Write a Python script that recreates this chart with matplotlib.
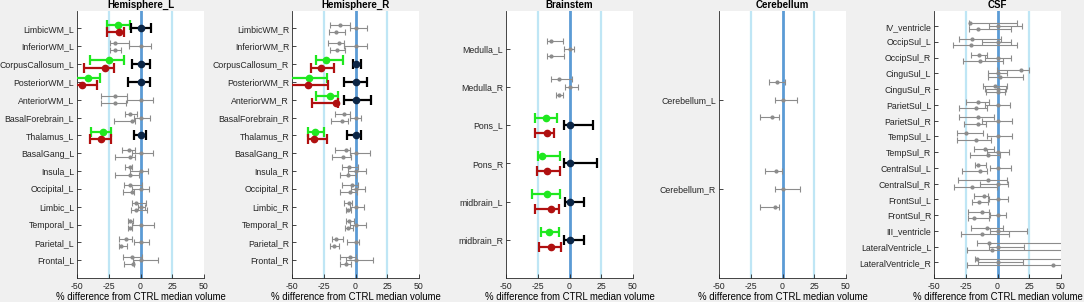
import matplotlib.pyplot as plt

plt.rcParams['font.family'] = ['Liberation Sans', 'DejaVu Sans']

# ---- data: (median, low, high) for upper group, (low, high) for CTRL, (median, low, high) for lower group
hemL_labels = ['LimbicWM_L', 'InferiorWM_L', 'CorpusCallosum_L', 'PosteriorWM_L', 'AnteriorWM_L',
               'BasalForebrain_L', 'Thalamus_L', 'BasalGang_L', 'Insula_L', 'Occipital_L',
               'Limbic_L', 'Temporal_L', 'Parietal_L', 'Frontal_L']
hemL_up = [(-17.5, -26, -8.5), (-20, -23.7, -9), (-24.5, -40, -13.3), (-41.5, -55, -32),
           (-20, -30.8, -10.4), (-8.2, -12.5, -2.4), (-29.5, -39, -23.4), (-9, -14.4, -4.3),
           (-8.5, -12.5, -6.4), (-8.5, -12.8, 1), (-3.2, -7, 4.3), (-8, -9.6, -5.9),
           (-11.7, -17, -7), (-7, -13.6, 1)]
hemL_ctrl = [(-7.4, 8), (-9, 8.2), (-7, 7.4), (-10, 7.4), (-10.4, 9.6), (-5, 7.4), (-5, 4.3),
             (-7, 9.6), (-8.5, 5.9), (-6.4, 7), (-2, 3.5), (-6.4, 11), (-5, 7), (-5.6, 13.6)]
hemL_low = [(-17, -26, -13.3), (-19.7, -23.7, -15.2), (-27.7, -44.7, -20.7), (-46.3, -55, -34),
            (-19.7, -31.4, -11.2), (-6.4, -21, -4.3), (-30.9, -40, -23.4), (-8.5, -19.7, -4.3),
            (-8.5, -20, -1), (-7, -13.8, -4.8), (-3.2, -7.7, 5.3), (-8, -10, -6.4),
            (-15, -17, -10.6), (-6, -13, -4.8)]
hemL_sig = ['LimbicWM_L', 'CorpusCallosum_L', 'PosteriorWM_L', 'Thalamus_L']

hemR_labels = ['LimbicWM_R', 'InferiorWM_R', 'CorpusCallosum_R', 'PosteriorWM_R', 'AnteriorWM_R',
               'BasalForebrain_R', 'Thalamus_R', 'BasalGang_R', 'Insula_R', 'Occipital_R',
               'Limbic_R', 'Temporal_R', 'Parietal_R', 'Frontal_R']
hemR_up = [(-12, -19.8, -4.2), (-12.8, -21.9, -8.9), (-23.4, -31.3, -9.9), (-36.5, -55, -22.4),
           (-20, -31, -14), (-8.9, -16, -4.2), (-31.5, -37.5, -25), (-7.6, -16, -4.2),
           (-5.2, -10.9, 1.6), (-2.6, -10.4, 1.6), (-5, -9.4, -2.9), (-5.2, -7.8, -1),
           (-15.6, -18.8, -9.9), (-4.7, -12, 0.5)]
hemR_ctrl = [(-4.2, 8.9), (-9.4, 8.9), (-2, 4.2), (-9.4, 9.4), (-8.9, 12.5), (-4.2, 4.7), (-6.8, 4.2),
             (-4.2, 11.5), (-5.7, 8.3), (-3.6, 7.6), (-4.2, 6.8), (-4.2, 8.3), (-6.8, 3.1), (-7.6, 13.5)]
hemR_low = [(-15.4, -20.6, -8.3), (-14.6, -20.3, -8.1), (-27, -34.9, -16.7), (-37.5, -55, -21.9),
            (-15.4, -34.4, -14), (-10.7, -19.3, -5.7), (-32.3, -37.5, -22.7), (-9.9, -18.8, -3.6),
            (-5.7, -12.5, 0.5), (-4.2, -12, 0.8), (-5.7, -7.6, -3.6), (-5.7, -8.1, -2.3),
            (-17.2, -19.8, -13), (-7.8, -12, -3.6)]
hemR_sig = ['CorpusCallosum_R', 'PosteriorWM_R', 'AnteriorWM_R', 'Thalamus_R']

bs_labels = ['Medulla_L', 'Medulla_R', 'Pons_L', 'Pons_R', 'midbrain_L', 'midbrain_R']
bs_up = [(-14.3, -17.4, -4.9), (-8.6, -14.3, 1.8), (-18.5, -26.8, -10.2), (-21.9, -24.7, -7.6),
         (-17.4, -29.4, -7.6), (-16.4, -22.7, -8.1)]
bs_ctrl = [(-4.4, 3.4), (-3.9, 7), (-4.4, 18.5), (-4.4, 22), (-3.4, 11.7), (-4.4, 11.2)]
bs_low = [(-14.3, -17.4, -4.4), (-8.1, -10.9, -5.5), (-17.4, -27.3, -12.2), (-17.4, -25.3, -7.6),
          (-14.3, -26.8, -8.6), (-14.3, -23.7, -7)]
bs_sig = ['Pons_L', 'Pons_R', 'midbrain_L', 'midbrain_R']

cb_labels = ['Cerebellum_L', 'Cerebellum_R']
cb_up = [(-4.5, -10.3, 1.6), (-5, -13.4, -0.3)]
cb_ctrl = [(-6, 11.3), (-5.8, 13.9)]
cb_low = [(-7.9, -17.6, -2.9), (-6, -17.6, -2.9)]
cb_sig = []

csf_labels = ['IV_ventricle', 'OccipSul_L', 'OccipSul_R', 'CinguSul_L', 'CinguSul_R', 'ParietSul_L',
              'ParietSul_R', 'TempSul_L', 'TempSul_R', 'CentralSul_L', 'CentralSul_R', 'FrontSul_L',
              'FrontSul_R', 'III_ventricle', 'LateralVentricle_L', 'LateralVentricle_R']
csf_up = [(-21.4, -22.4, 15.1), (-19.8, -30.2, 3.1), (-14.6, -20.8, -8.3), (18.8, -0.5, 25),
          (-1.6, -11.5, 7.3), (-15.1, -24.5, -6.3), (-15.1, -30.2, -2.6), (-25, -31.8, -11.5),
          (-9.9, -18.2, -3.1), (-15.6, -17.7, -9.4), (-7.3, -31.3, 7.8), (-10.4, -18.8, -7.3),
          (-12.5, -22.9, -6.3), (-8.3, -20.8, 4.7), (-6.3, -16.1, 60), (-16, -17.7, 60)]
csf_ctrl = [(-6.3, 19.3), (-12, 10.4), (-9.9, 10.9), (-7.3, 7.3), (-9.9, 6.3), (-9.9, 9.9), (-12, 11.5),
            (-8.3, 11.5), (-8.3, 8.9), (-5.7, 10.4), (-14.1, 8.3), (-6.8, 8.3), (-5.7, 6.8), (-5.7, 23.4),
            (-6.8, 20.8), (-15.6, 19.8)]
csf_low = [(-15.6, -22.4, 10.4), (-20.8, -34.9, 15.6), (-14.1, -27, 4.2), (1.6, -7.3, 19.8),
           (0.5, -8.9, 5.7), (-17.2, -30.2, -8.3), (-15.1, -26.6, -8.9), (-16.7, -31.8, -5.2),
           (-7.3, -21.4, 2.1), (-13.5, -28.1, -8.3), (-19.8, -33.9, -0.5), (-14.6, -19.8, -7.3),
           (-18.2, -22.9, -6.8), (-12, -28.6, 8.9), (-4.7, -24, 60), (43.7, -24, 60)]
csf_sig = []

panels = [('Hemisphere_L', hemL_labels, hemL_up, hemL_ctrl, hemL_low, hemL_sig, 77),
          ('Hemisphere_R', hemR_labels, hemR_up, hemR_ctrl, hemR_low, hemR_sig, 292),
          ('Brainstem', bs_labels, bs_up, bs_ctrl, bs_low, bs_sig, 506),
          ('Cerebellum', cb_labels, cb_up, cb_ctrl, cb_low, cb_sig, 719),
          ('CSF', csf_labels, csf_up, csf_ctrl, csf_low, csf_sig, 934)]

W, H = 1084, 302
fig = plt.figure(figsize=(W / 100, H / 100), dpi=100, facecolor='#f0f0f0')

green = '#1fe81f'
red = '#b01010'
grey = '#8c8c8c'
axcol = '#262626'
off = 0.2

for title, labels, up, ctrl, low, sig, x0 in panels:
    ax = fig.add_axes([x0 / W, 24 / H, 127 / W, 267.5 / H])
    ax.set_facecolor('white')
    n = len(labels)
    ax.axvline(-25, color='#bfe6f5', lw=1.6, zorder=1)
    ax.axvline(25, color='#bfe6f5', lw=1.6, zorder=1)
    ax.axvline(0, color='#5b9bd5', lw=2, zorder=1)
    for i, name in enumerate(labels):
        y = i + 1
        c_up, c_low = up[i], low[i]
        lo_c, hi_c = ctrl[i]
        if name in sig:
            kw = dict(lw=1.6, capsize=3.4, capthick=1.6, ms=4.5, zorder=3)
            ax.errorbar(c_up[0], y - off, xerr=[[c_up[0] - c_up[1]], [c_up[2] - c_up[0]]],
                        fmt='o', color=green, mfc=green, mec=green, **kw)
            ax.errorbar(c_low[0], y + off, xerr=[[c_low[0] - c_low[1]], [c_low[2] - c_low[0]]],
                        fmt='o', color=red, mfc=red, mec=red, **kw)
            ax.errorbar(0, y, xerr=[[-lo_c], [hi_c]], fmt='o', color='black',
                        mfc='#0b2545', mec='#0b2545', **kw)
        else:
            kw = dict(lw=0.8, capsize=2, capthick=0.8, ms=2, color=grey, mfc=grey, mec=grey, zorder=2)
            ax.errorbar(c_up[0], y - off, xerr=[[c_up[0] - c_up[1]], [c_up[2] - c_up[0]]],
                        fmt='o', **kw)
            ax.errorbar(c_low[0], y + off, xerr=[[c_low[0] - c_low[1]], [c_low[2] - c_low[0]]],
                        fmt='o', **kw)
            ax.errorbar(0, y, xerr=[[-lo_c], [hi_c]], fmt='o', **kw)

    ax.set_xlim(-50, 50)
    ax.set_ylim(n + 1, 0)
    ax.set_yticks(range(1, n + 1))
    ax.set_yticklabels(labels)
    ax.set_xticks([-50, -25, 0, 25, 50])
    ax.set_xticklabels(['-50', '-25', '0', '25', '50'])
    ax.tick_params(direction='in', length=3, width=0.6, colors=axcol, labelsize=6.3, pad=2)
    ax.tick_params(axis='x', pad=3)
    for s in ['top', 'right']:
        ax.spines[s].set_visible(False)
    for s in ['left', 'bottom']:
        ax.spines[s].set_color(axcol)
        ax.spines[s].set_linewidth(0.6)
    ax.set_title(title, fontsize=7, fontweight='bold', pad=1.5, color='black')
    ax.set_xlabel('% difference from CTRL median volume', fontsize=6.9, labelpad=0.5, color='black')

fig.savefig('out.png', dpi=100, facecolor=fig.get_facecolor())
